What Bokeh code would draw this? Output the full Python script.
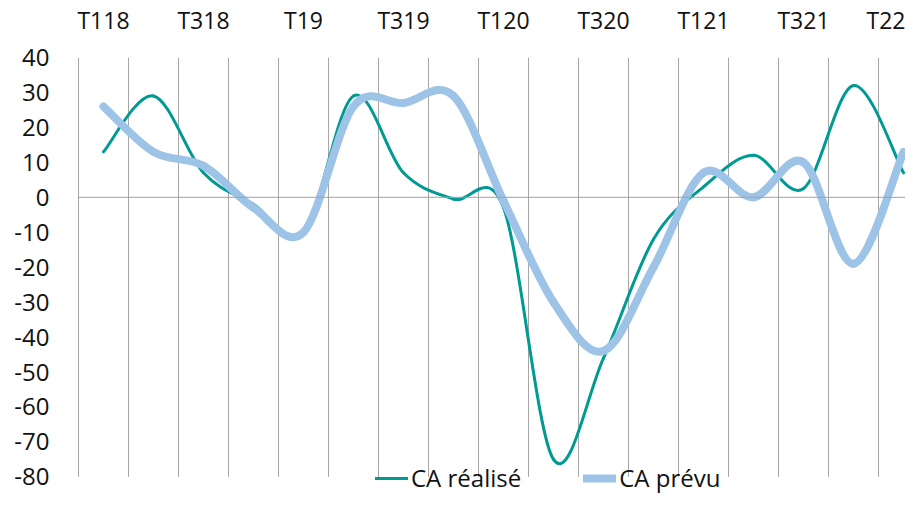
from bokeh.plotting import figure
from bokeh.models import FixedTicker, Span, Legend, LegendItem, Range1d
from bokeh.embed import file_html
from bokeh.resources import INLINE

categories = ["T118", "T218", "T318", "T418", "T19", "T219", "T319", "T419",
              "T120", "T220", "T320", "T420", "T121", "T221", "T321", "T421", "T22"]
ca_realise = [13, 29, 7, -2, -10, 29, 7, -0.5, -3, -75, -46, -12, 3, 12, 2.5, 32, 7]
ca_prevu = [26, 13, 9, -3, -10, 26, 27, 29, -1, -30, -44, -20, 7, 0, 10, -19, 13]
y_ticks = [40, 30, 20, 10, 0, -10, -20, -30, -40, -50, -60, -70, -80]
y_min, y_max = -80, 40

TEAL = "#009A93"
BLUE = "#9DC3E6"
GRID = "#a6a6a6"
FONT = "Open Sans"

W, H = 905, 494
LEFT = 77
TOP = 48           # frame top (figure px)
AXIS_BOTTOM = 476  # pixel of y_min (figure px)
PX_PER_CAT = 50
scale = (AXIS_BOTTOM - TOP) / (y_max - y_min)
y_start = y_min - (H - AXIS_BOTTOM) / scale
x_start = -0.52
x_end = x_start + (W - LEFT) / PX_PER_CAT

# frame extends below the -80 line so that the legend fits inside it
p = figure(width=W, height=H, output_backend="svg", toolbar_location=None,
           x_axis_location="above", x_range=Range1d(x_start, x_end),
           y_range=Range1d(y_start, y_max),
           min_border_left=LEFT, min_border_right=0, min_border_top=TOP, min_border_bottom=0)
p.outline_line_color = None
p.background_fill_color = "white"

# axes
p.xaxis.ticker = FixedTicker(ticks=list(range(0, len(categories), 2)))
p.xaxis.major_label_overrides = {i: categories[i] for i in range(len(categories))}
p.xaxis.axis_line_color = None
p.xaxis.major_tick_line_color = None
p.xaxis.minor_tick_line_color = None
p.xaxis.major_label_text_font = FONT
p.xaxis.major_label_text_font_size = "23px"
p.xaxis.major_label_text_color = "#111111"
p.xaxis.major_label_standoff = 16

p.yaxis.ticker = FixedTicker(ticks=y_ticks)
p.yaxis.major_label_overrides = {t: str(t) for t in y_ticks}
p.yaxis.axis_line_color = None
p.yaxis.major_tick_line_color = None
p.yaxis.minor_tick_line_color = None
p.yaxis.major_label_text_font = FONT
p.yaxis.major_label_text_font_size = "24px"
p.yaxis.major_label_text_color = "#111111"
p.yaxis.major_label_standoff = 22

p.xgrid.grid_line_color = None
p.ygrid.grid_line_color = None

# vertical category boundaries, spanning the value axis only
bounds = [i - 0.5 for i in range(len(categories))]
p.segment(x0=bounds, x1=bounds, y0=[y_min] * len(bounds), y1=[y_max] * len(bounds),
          line_color=GRID, line_width=1)
p.add_layout(Span(location=0, dimension="width", line_color="#a0a0a0", line_width=1))


def smooth(vals):
    n = len(vals)
    xs = list(range(n))
    x0, y0, x1, y1, cx0, cy0, cx1, cy1 = [], [], [], [], [], [], [], []
    for i in range(n - 1):
        pm = (xs[max(i - 1, 0)], vals[max(i - 1, 0)])
        pa = (xs[i], vals[i])
        pb = (xs[i + 1], vals[i + 1])
        pn = (xs[min(i + 2, n - 1)], vals[min(i + 2, n - 1)])
        x0.append(pa[0]); y0.append(pa[1])
        x1.append(pb[0]); y1.append(pb[1])
        cx0.append(pa[0] + (pb[0] - pm[0]) / 6.0)
        cy0.append(pa[1] + (pb[1] - pm[1]) / 6.0)
        cx1.append(pb[0] - (pn[0] - pa[0]) / 6.0)
        cy1.append(pb[1] - (pn[1] - pa[1]) / 6.0)
    return dict(x0=x0, y0=y0, x1=x1, y1=y1, cx0=cx0, cy0=cy0, cx1=cx1, cy1=cy1)


b1 = p.bezier(source=smooth(ca_realise), x0="x0", y0="y0", x1="x1", y1="y1",
              cx0="cx0", cy0="cy0", cx1="cx1", cy1="cy1",
              line_color=TEAL, line_width=3, line_cap="round")
b2 = p.bezier(source=smooth(ca_prevu), x0="x0", y0="y0", x1="x1", y1="y1",
              cx0="cx0", cy0="cy0", cx1="cx1", cy1="cy1",
              line_color=BLUE, line_width=8, line_cap="round")

legend = Legend(items=[LegendItem(label="CA réalisé", renderers=[b1], index=0),
                       LegendItem(label="CA prévu", renderers=[b2], index=0)],
                orientation="horizontal", location=(298, 0),
                label_text_font=FONT, label_text_font_size="24px", label_text_color="#111111",
                glyph_width=33, glyph_height=20, label_standoff=3, spacing=62,
                padding=0, margin=0, border_line_color=None,
                background_fill_color="white", background_fill_alpha=0)
p.add_layout(legend, "center")

open("out.html", "w").write(file_html(p, INLINE))
